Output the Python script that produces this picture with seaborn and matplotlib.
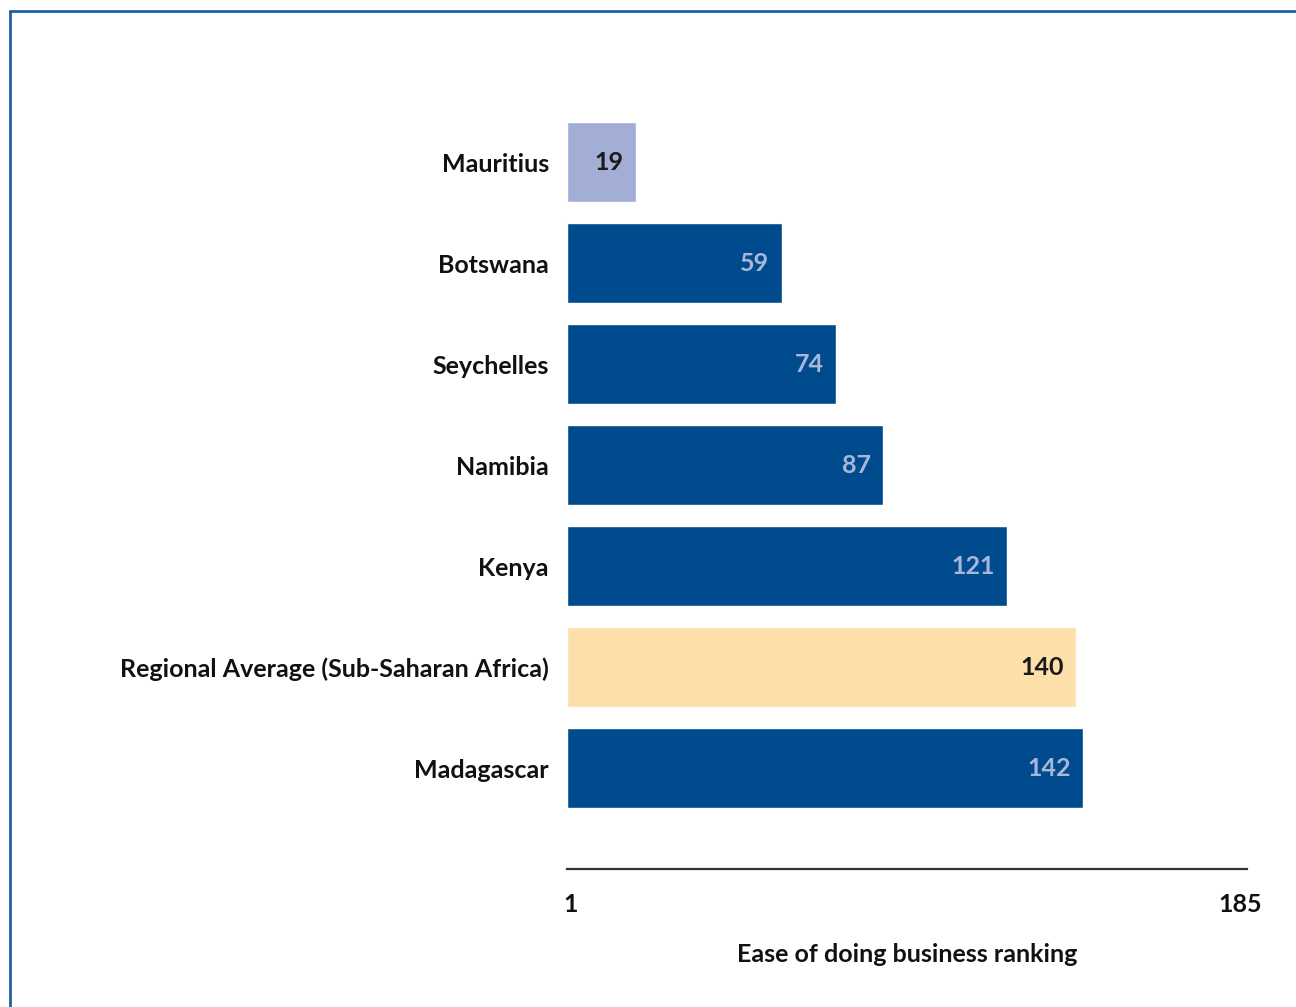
import matplotlib
matplotlib.use("Agg")
import matplotlib.pyplot as plt
from matplotlib.lines import Line2D
import seaborn as sns
import pandas as pd

# Ease of doing business ranking (lower is better)
countries = ["Mauritius", "Botswana", "Seychelles", "Namibia", "Kenya",
             "Regional Average (Sub-Saharan Africa)", "Madagascar"]
rankings = [19, 59, 74, 87, 121, 140, 142]
bar_colors = ["#A3AED6", "#004B8D", "#004B8D", "#004B8D", "#004B8D",
              "#FDDFA9", "#004B8D"]
value_colors = ["#1A1A1A", "#A7B6DA", "#A7B6DA", "#A7B6DA", "#A7B6DA",
                "#1A1A1A", "#A7B6DA"]
tick_positions = [1, 185]
tick_labels = ["1", "185"]
x_label = "Ease of doing business ranking"

df = pd.DataFrame({"country": countries, "rank": rankings})

sns.set_theme(style="white")
plt.rcParams["font.family"] = ["Lato", "DejaVu Sans"]
plt.rcParams["font.weight"] = "bold"

FS = 18

fig = plt.figure(figsize=(12.96, 10.07), dpi=100)
ax = fig.add_axes([0.4375, 0.137, 0.5247, 0.752])

sns.barplot(data=df, x="rank", y="country", hue="country",
            palette=bar_colors, legend=False, width=0.79,
            saturation=1, ax=ax)

for i, (v, c) in enumerate(zip(rankings, value_colors)):
    ax.annotate(str(v), xy=(v, i), xytext=(-9, 0), textcoords="offset points",
                ha="right", va="center", fontsize=FS, fontweight="bold", color=c)

ax.set_xlim(0, 187.0)
ax.set_ylim(7.0, -0.5)
ax.set_xticks(tick_positions)
ax.set_xticklabels(tick_labels, fontsize=FS, fontweight="bold", color="#111111")
ax.tick_params(axis="x", length=0, pad=17)
ax.tick_params(axis="y", length=0, pad=13, labelsize=FS, labelcolor="#111111")
for lbl in ax.get_yticklabels():
    lbl.set_fontweight("bold")
ax.set_ylabel("")
ax.set_xlabel(x_label, fontsize=FS, fontweight="bold", color="#111111", labelpad=20)

for side in ["top", "right", "left"]:
    ax.spines[side].set_visible(False)
ax.spines["bottom"].set_color("#333333")
ax.spines["bottom"].set_linewidth(1.6)

# Blue frame along the top and left edges of the figure
frame_color = "#1F5FA6"
fig.add_artist(Line2D([10 / 1296, 1.0], [1 - 11 / 1007, 1 - 11 / 1007],
                      transform=fig.transFigure, color=frame_color, linewidth=2))
fig.add_artist(Line2D([10 / 1296, 10 / 1296], [0.0, 1 - 11 / 1007],
                      transform=fig.transFigure, color=frame_color, linewidth=2))

fig.savefig("out.png", dpi=100)
